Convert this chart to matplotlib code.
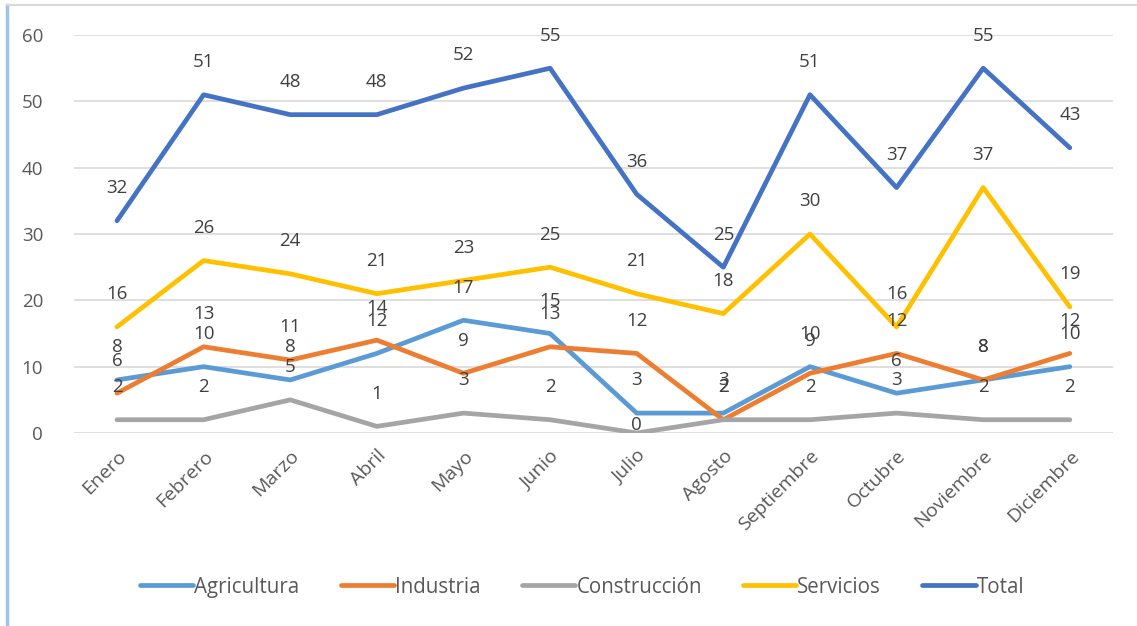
import matplotlib
matplotlib.use("Agg")
import matplotlib.pyplot as plt
from matplotlib.lines import Line2D

months = ["Enero", "Febrero", "Marzo", "Abril", "Mayo", "Junio", "Julio",
          "Agosto", "Septiembre", "Octubre", "Noviembre", "Diciembre"]
agricultura = [8, 10, 8, 12, 17, 15, 3, 3, 10, 6, 8, 10]
industria = [6, 13, 11, 14, 9, 13, 12, 2, 9, 12, 8, 12]
construccion = [2, 2, 5, 1, 3, 2, 0, 2, 2, 3, 2, 2]
servicios = [16, 26, 24, 21, 23, 25, 21, 18, 30, 16, 37, 19]
total = [32, 51, 48, 48, 52, 55, 36, 25, 51, 37, 55, 43]

series = [
    ("Agricultura", agricultura, "#5B9BD5"),
    ("Industria", industria, "#ED7D31"),
    ("Construcción", construccion, "#A5A5A5"),
    ("Servicios", servicios, "#FFC000"),
    ("Total", total, "#4472C4"),
]

plt.rcParams['font.family'] = ['Open Sans', 'DejaVu Sans']

fig = plt.figure(figsize=(11.37, 6.26), dpi=100)
ax = fig.add_axes([0.0648, 0.3083, 0.9142, 0.6357])

x = list(range(len(months)))
for name, vals, col in series:
    ax.plot(x, vals, color=col, lw=3.4, solid_capstyle='round',
            solid_joinstyle='round', label=name)
for name, vals, col in series:
    for xi, v in zip(x, vals):
        off = 23.5 if v > 0 else 6
        ax.annotate(str(v), (xi, v), xytext=(0, off), textcoords='offset points',
                    ha='center', va='center', fontsize=13.5, color='#404040')

ax.set_xlim(-0.5, len(months) - 0.5)
ax.set_ylim(0, 60)
ax.set_yticks(range(0, 61, 10))
ax.grid(axis='y', color='#D9D9D9', lw=1.2)
ax.set_axisbelow(True)
for s in ax.spines.values():
    s.set_visible(False)
ax.tick_params(axis='both', length=0, labelsize=13.5, labelcolor='#595959')
ax.tick_params(axis='y', pad=22)
ax.set_xticks(x)
ax.set_xticklabels(months, rotation=45, ha='right', va='top',
                   rotation_mode='anchor', fontsize=14)
ax.tick_params(axis='x', pad=10)

handles = [Line2D([0], [0], color=c, lw=3.4, solid_capstyle='round') for _, _, c in series]
fig.legend(handles, [n for n, _, _ in series], loc='center', ncol=5,
           bbox_to_anchor=(0.512, 0.062), frameon=False, fontsize=14.8,
           handlelength=2.6, handletextpad=0.05, columnspacing=2.0,
           labelcolor='#595959')

# outer frame
fig.add_artist(Line2D([0.006, 0.006], [0.0, 0.992], transform=fig.transFigure,
                      color='#9DC3E6', lw=2.5))
fig.add_artist(Line2D([0.006, 1.0], [0.992, 0.992], transform=fig.transFigure,
                      color='#D9D9D9', lw=1.5))

fig.savefig("out.png", dpi=100)
